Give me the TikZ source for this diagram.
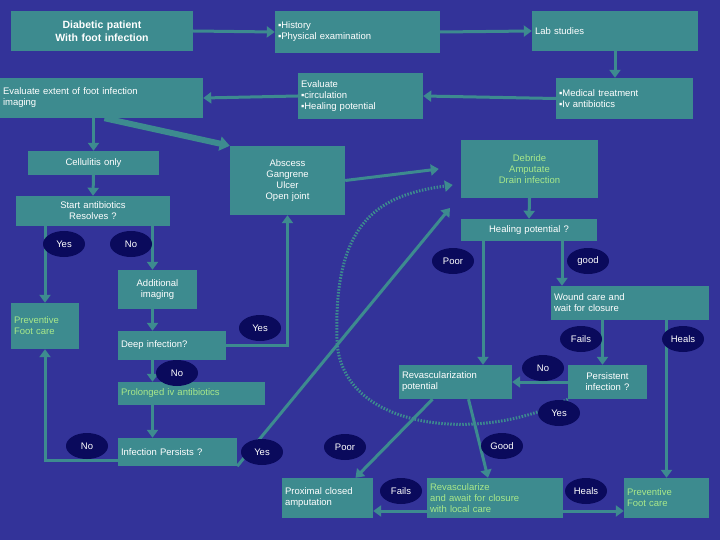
\documentclass[tikz,border=0pt]{standalone}
\usepackage{fontspec}
\setmainfont{Liberation Sans}
\usetikzlibrary{arrows.meta,shapes.geometric}
\definecolor{bgc}{HTML}{333399}
\definecolor{boxc}{HTML}{3D8B8F}
\definecolor{navyc}{HTML}{0A0A5C}
\definecolor{greenc}{HTML}{A8E88A}
\tikzset{
  box/.style={fill=boxc,text=white,inner sep=3pt,font=\fontsize{9.5}{11}\selectfont},
  lt/.style={align=left},
  ct/.style={align=center},
  gr/.style={text=greenc},
  tag/.style={ellipse,fill=navyc,text=white,minimum width=42pt,minimum height=26pt,inner sep=0pt,font=\fontsize{9.5}{11}\selectfont},
  go/.style={draw=boxc,line width=3pt,-{Triangle[width=11pt,length=8pt]}},
}
\begin{document}
\begin{tikzpicture}[x=1pt,y=-1pt]
  \fill[bgc] (0,0) rectangle (720,540);
  \useasboundingbox (0,0) rectangle (720,540);

  % boxes
  \node[box,ct,text width=176,minimum height=40,font=\bfseries\fontsize{10.5}{13}\selectfont] (diab) at (102,31) {Diabetic patient\\With foot infection};
  \node[box,lt,text width=159,minimum height=42] (hist) at (357.5,32) {▪History\\▪Physical examination};
  \node[box,lt,text width=160,minimum height=40] (lab) at (615,31) {Lab studies};
  \node[box,lt,text width=131,minimum height=41] (med) at (624.5,98.5) {▪Medical treatment\\▪Iv antibiotics};
  \node[box,lt,text width=119,minimum height=46] (eval) at (360.5,96) {Evaluate\\▪circulation\\▪Healing potential};
  \node[box,lt,text width=197,minimum height=40] (ext) at (101.5,98) {Evaluate extent of foot infection\\imaging};
  \node[box,ct,text width=125,minimum height=24] (cell) at (93.5,163) {Cellulitis only};
  \node[box,ct,text width=148,minimum height=30] (start) at (93,211) {Start antibiotics\\Resolves ?};
  \node[box,ct,text width=109,minimum height=69] (abs) at (287.5,180.5) {Abscess\\Gangrene\\Ulcer\\Open joint};
  \node[box,ct,gr,text width=131,minimum height=58] (deb) at (529.5,169) {Debride\\Amputate\\Drain infection};
  \node[box,ct,text width=130,minimum height=22] (heal) at (529,230) {Healing potential ?};
  \node[box,ct,text width=73,minimum height=39] (add) at (157.5,289.5) {Additional\\imaging};
  \node[box,lt,gr,text width=62,minimum height=46] (prevL) at (45,326) {Preventive\\Foot care};
  \node[box,lt,text width=102,minimum height=29] (deep) at (172,345.5) {Deep infection?};
  \node[box,lt,gr,text width=141,minimum height=23] (prol) at (191.5,393.5) {Prolonged iv antibiotics};
  \node[box,lt,text width=113,minimum height=28] (infp) at (177.5,452) {Infection Persists ?};
  \node[box,lt,text width=152,minimum height=34] (wound) at (630,303) {Wound care and\\wait for closure};
  \node[box,ct,text width=73,minimum height=34] (pers) at (607.5,382) {Persistent\\infection ?};
  \node[box,lt,text width=107,minimum height=34] (revp) at (455.5,382) {Revascularization\\potential};
  \node[box,lt,text width=85,minimum height=40] (prox) at (327.5,498) {Proximal closed\\amputation};
  \node[box,lt,gr,text width=130,minimum height=40] (revz) at (495,498) {Revascularize\\and await for closure\\with local care};
  \node[box,lt,gr,text width=79,minimum height=40] (prevR) at (666.5,498) {Preventive\\Foot care};
  \coordinate (tip) at (450,208);

  % arrows
  \draw[go] (diab.east) -- (hist.west);
  \draw[go] (hist.east) -- (lab.west);
  \draw[go] (lab.south) -- (lab.south |- med.north);
  \draw[go] (med.west) -- (eval.east);
  \draw[go] (eval.west) -- (ext.east);
  \draw[go] (cell.north |- ext.south) -- (cell.north);
  \draw[draw=boxc,line width=6pt,-{Triangle[width=14pt,length=10pt]}] ([xshift=3]ext.south) -- (abs.north west);
  \draw[go] (cell.south) -- (start.north);
  \draw[go] (prevL.north |- start.south) -- (prevL.north);
  \draw[go] ([xshift=-5]add.north |- start.south) -- ([xshift=-5]add.north);
  \draw[go] ([xshift=-5]add.south) -- ([xshift=-5]add.south |- deep.north);
  \draw[go] ([xshift=-5]add.south |- deep.south) -- ([xshift=-5]add.south |- prol.north);
  \draw[go] ([xshift=-5]add.south |- prol.south) -- ([xshift=-5]add.south |- infp.north);
  \draw[go] ([yshift=-8]infp.west) -| (prevL.south);
  \draw[go] (deep.east) -| (abs.south);
  \draw[go] (abs.east) -- ([xshift=-22]deb.west);
  \draw[draw=boxc,line width=3pt,dash pattern=on 1.5pt off 1.5pt,-{Triangle[width=11pt,length=8pt]}]
    (pers.south west) .. controls (480,445) and (340,430) .. (337,340)
    .. controls (333,220) and (380,195) .. ([xshift=-8,yshift=-16]deb.west);
  \draw[go] (infp.south east) -- (tip);
  \draw[go] (deb.south) -- (heal.north);
  \draw[go] ([xshift=-46]heal.south) -- ([xshift=-46]heal.south |- revp.north);
  \draw[go] ([xshift=33]heal.south) -- ([xshift=33]heal.south |- wound.north);
  \draw[go] ([xshift=-5]pers.north |- wound.south) -- ([xshift=-5]pers.north);
  \draw[go] (prevR.north |- wound.south) -- (prevR.north);
  \draw[go] (pers.west) -- (revp.east);
  \draw[go] ([xshift=-23]revp.south) -- ([xshift=28]prox.north);
  \draw[go] ([xshift=13]revp.south) -- ([xshift=-7]revz.north);
  \draw[go] ([yshift=-13]revz.west) -- ([yshift=-13]prox.east);
  \draw[go] ([yshift=-13]revz.east) -- ([yshift=-13]prevR.west);

  % tags
  \node[tag] (t1) at (64,244) {Yes};
  \node[tag] (t2) at (131,244) {No};
  \node[tag] (t3) at (453,261) {Poor};
  \node[tag] (t4) at (588,261) {good};
  \node[tag] (t5) at (260,328) {Yes};
  \node[tag] (t6) at (177,373) {No};
  \node[tag] (t7) at (87,446) {No};
  \node[tag] (t8) at (262,452) {Yes};
  \node[tag] (t9) at (345,447) {Poor};
  \node[tag] (t10) at (502,446) {Good};
  \node[tag] (t11) at (581,339) {Fails};
  \node[tag] (t12) at (683,339) {Heals};
  \node[tag] (t13) at (543,368) {No};
  \node[tag] (t14) at (559,413) {Yes};
  \node[tag] (t15) at (401,491) {Fails};
  \node[tag] (t16) at (586,491) {Heals};
\end{tikzpicture}
\end{document}
